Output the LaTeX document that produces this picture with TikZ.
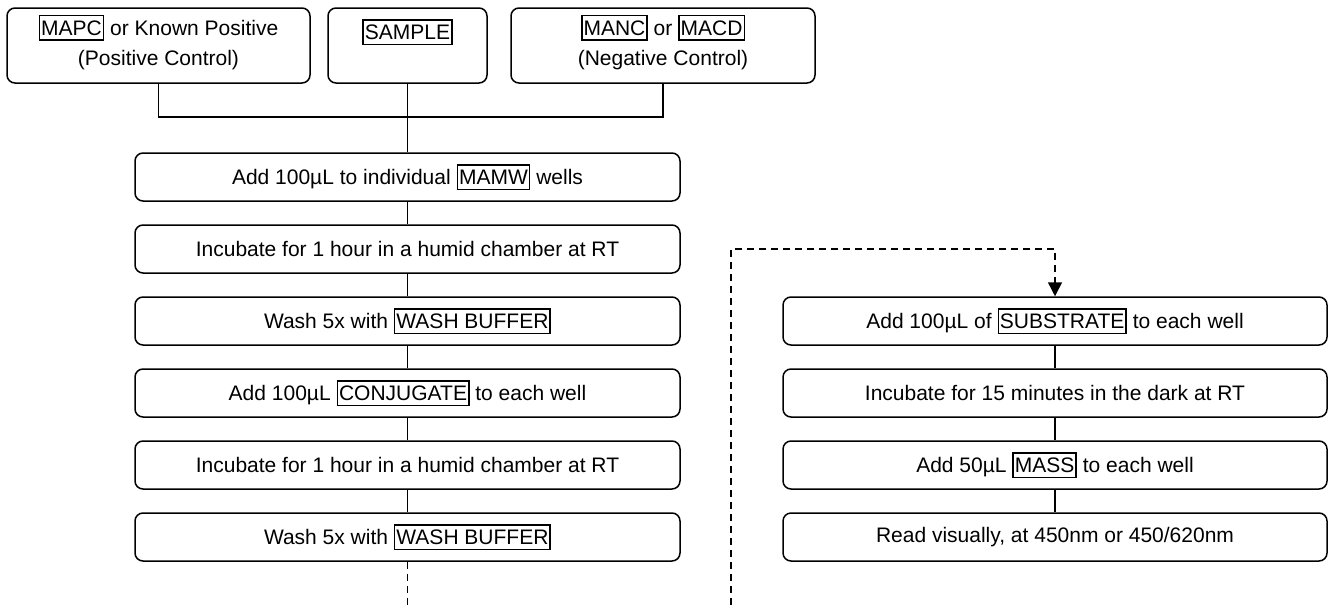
\documentclass[tikz,border=0pt]{standalone}
\usepackage{fontspec}
\setmainfont{Liberation Sans}
\usetikzlibrary{arrows.meta}
\newcommand{\kw}[1]{{\setlength{\fboxsep}{0pt}\setlength{\fboxrule}{1.5pt}\fbox{\kern1pt\rule[-4pt]{0pt}{23pt}#1\kern1pt}}}
\tikzset{
  base/.style={draw=black, line width=1.5pt, rounded corners=8pt, inner sep=0pt, font=\fontsize{21}{30}\selectfont},
  topbox/.style={base, minimum height=75pt},
  stepbox/.style={base, minimum width=545pt, minimum height=48pt},
  rstepbox/.style={base, minimum width=544pt, minimum height=48pt},
  txt/.style={inner sep=0pt, align=center, font=\fontsize{21}{30}\selectfont},
  conn/.style={draw=black, line width=1.5pt},
  dconn/.style={conn, dash pattern=on 7pt off 5pt},
}
\begin{document}
\begin{tikzpicture}[x=1pt, y=-1pt]
\useasboundingbox (0,0) rectangle (1329,605);
% top boxes
\node[topbox, minimum width=303pt] (b1) at (158.5,45.5) {};
\node[topbox, minimum width=159pt] (b2) at (407.5,45.5) {};
\node[topbox, minimum width=304pt] (b3) at (663,45.5) {};
\node[txt] (t1) at (158.5,42) {\kw{MAPC} or Known Positive\\(Positive Control)};
\node[txt] (t2) at (407.5,32) {\kw{SAMPLE}};
\node[txt] (t3) at (663,42) {\kw{MANC} or \kw{MACD}\\(Negative Control)};
% left column
\node[stepbox] (s1) at (407.5,177) {Add 100µL to individual \kw{MAMW} wells};
\node[stepbox] (s2) at (407.5,249) {Incubate for 1 hour in a humid chamber at RT};
\node[stepbox] (s3) at (407.5,321) {Wash 5x with \kw{WASH BUFFER}};
\node[stepbox] (s4) at (407.5,393) {Add 100µL \kw{CONJUGATE} to each well};
\node[stepbox] (s5) at (407.5,465) {Incubate for 1 hour in a humid chamber at RT};
\node[stepbox] (s6) at (407.5,537) {Wash 5x with \kw{WASH BUFFER}};
% right column
\node[rstepbox] (r1) at (1055,321) {Add 100µL of \kw{SUBSTRATE} to each well};
\node[rstepbox] (r2) at (1055,393) {Incubate for 15 minutes in the dark at RT};
\node[rstepbox] (r3) at (1055,465) {Add 50µL \kw{MASS} to each well};
\node[rstepbox] (r4) at (1055,537) {Read visually, at 450nm or 450/620nm};
% connectors
\coordinate (j) at (407.5,117);
\draw[conn] (b1.south) |- (j) -| (b3.south);
\draw[conn] (b2.south) -- (s1.north);
\draw[conn] (s1) -- (s2);
\draw[conn] (s2) -- (s3);
\draw[conn] (s3) -- (s4);
\draw[conn] (s4) -- (s5);
\draw[conn] (s5) -- (s6);
\draw[conn] (r1) -- (r2);
\draw[conn] (r2) -- (r3);
\draw[conn] (r3) -- (r4);
\coordinate (endL) at (407.5,605);
\draw[dconn] (s6.south) -- (endL);
\coordinate (startR) at (731,605);
\coordinate (cornerR) at (731,249);
\draw[dconn, -{Triangle[length=14pt,width=14pt]}] (startR) -- (cornerR) -| (r1.north);
\end{tikzpicture}
\end{document}
